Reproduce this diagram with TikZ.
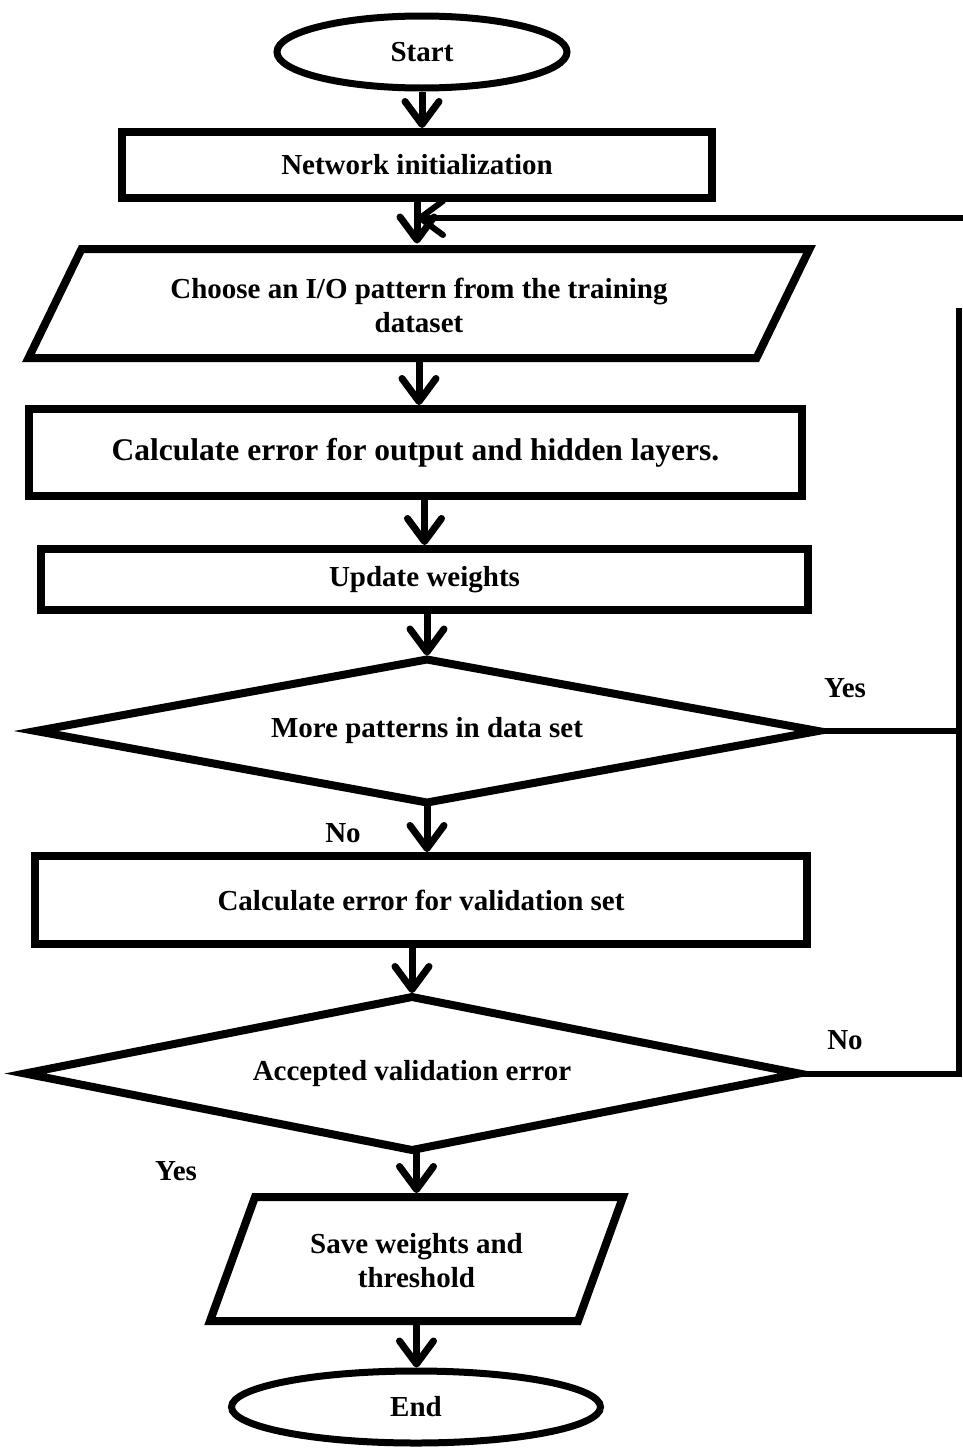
\documentclass[tikz,border=0pt]{standalone}
\usepackage{fontspec}
\setmainfont{Liberation Serif}
\usetikzlibrary{arrows.meta,shapes.geometric,calc}
\begin{document}
\begin{tikzpicture}[x=1pt,y=-1pt]
\tikzset{
  every node/.style={font=\bfseries\fontsize{29}{34}\selectfont},
  box/.style={draw, rectangle, line width=8pt, inner sep=0pt, align=center},
  frame/.style={draw=none, rectangle, inner sep=0pt, outer sep=0pt, align=center},
  outline/.style={line width=8pt, line join=miter},
  terminal/.style={draw, ellipse, line width=7pt, inner sep=0pt},
  arr/.style={line width=7pt, -{Straight Barb[length=23pt,width=34pt,round]}},
  into/.style={shorten >=4pt},
  loopline/.style={line width=6pt},
  tag/.style={inner sep=0pt},
}
\useasboundingbox (0,0) rectangle (963,1448);

% terminals, process boxes and decisions
\node[terminal, minimum width=290pt, minimum height=72pt] (start) at (422,52) {Start};
\node[box, minimum width=590pt, minimum height=66pt] (init) at (417,165) {Network initialization};

\node[frame, minimum width=728pt, minimum height=109pt] (choose) at (419,305)
  {Choose an I/O pattern from the training\\dataset};
\draw[outline] ($(choose.north west)+(26.5,-1.5)$) -- ($(choose.north east)+(26.5,-1.5)$)
  -- ($(choose.south east)+(-26.5,-1.5)$) -- ($(choose.south west)+(-26.5,-1.5)$) -- cycle;

\node[box, minimum width=773pt, minimum height=87pt,
      font=\bfseries\fontsize{31.5}{36}\selectfont] (errhid) at (415.5,452.5)
  {Calculate error for output and hidden layers.};
\node[box, minimum width=767pt, minimum height=61pt] (upd) at (424.5,579.5) {Update weights};

\node[frame, minimum width=782pt, minimum height=143pt] (more) at (427,731) {More patterns in data set};
\draw[outline] (more.north) -- (more.east) -- (more.south) -- (more.west) -- cycle;

\node[box, minimum width=772pt, minimum height=88pt] (errval) at (421,900) {Calculate error for validation set};

\node[frame, minimum width=774pt, minimum height=153pt] (acc) at (412,1073.5) {Accepted validation error};
\draw[outline] (acc.north) -- (acc.east) -- (acc.south) -- (acc.west) -- cycle;

\node[frame, minimum width=368pt, minimum height=124pt] (save) at (416.5,1261) {Save weights and\\threshold};
\draw[outline] ($(save.north west)+(22.5,-2)$) -- ($(save.north east)+(22.5,-2)$)
  -- ($(save.south east)+(-22.5,-2)$) -- ($(save.south west)+(-22.5,-2)$) -- cycle;

\node[terminal, minimum width=369pt, minimum height=72pt] (end) at (416,1407) {End};

% branch labels
\node[tag] (yes1) at (845,688) {Yes};
\node[tag] (no1) at (343,833) {No};
\node[tag] (no2) at (845,1040) {No};
\node[tag] (yes2) at (176,1171) {Yes};

% main flow
\draw[arr] (start.south) -- (start.south |- init.north);
\draw[arr, into] (init.south) -- (init.south |- 0,247.5);
\draw[arr] (choose.south |- 0,362) -- (choose.south |- errhid.north);
\draw[arr] (upd.north |- errhid.south) -- (upd.north);
\draw[arr, into] (more.north |- upd.south) -- (more.north);
\draw[arr] (more.south) -- (more.south |- errval.north);
\draw[arr, into] (acc.north |- errval.south) -- (acc.north);
\draw[arr] (save.north |- acc.south) -- (save.north |- 0,1193);
\draw[arr] (save.south |- 0,1323) -- (save.south |- end.north);

% loop back to the pattern selection
\coordinate (railtop) at (959,308);
\coordinate (edge) at (966,218);
\draw[loopline] (more.east) -- (more.east -| railtop);
\draw[loopline] (acc.east) -- (acc.east -| railtop) -- (railtop);
\draw[arr, line width=6pt] (edge) -- (edge -| init.south);
\end{tikzpicture}
\end{document}
